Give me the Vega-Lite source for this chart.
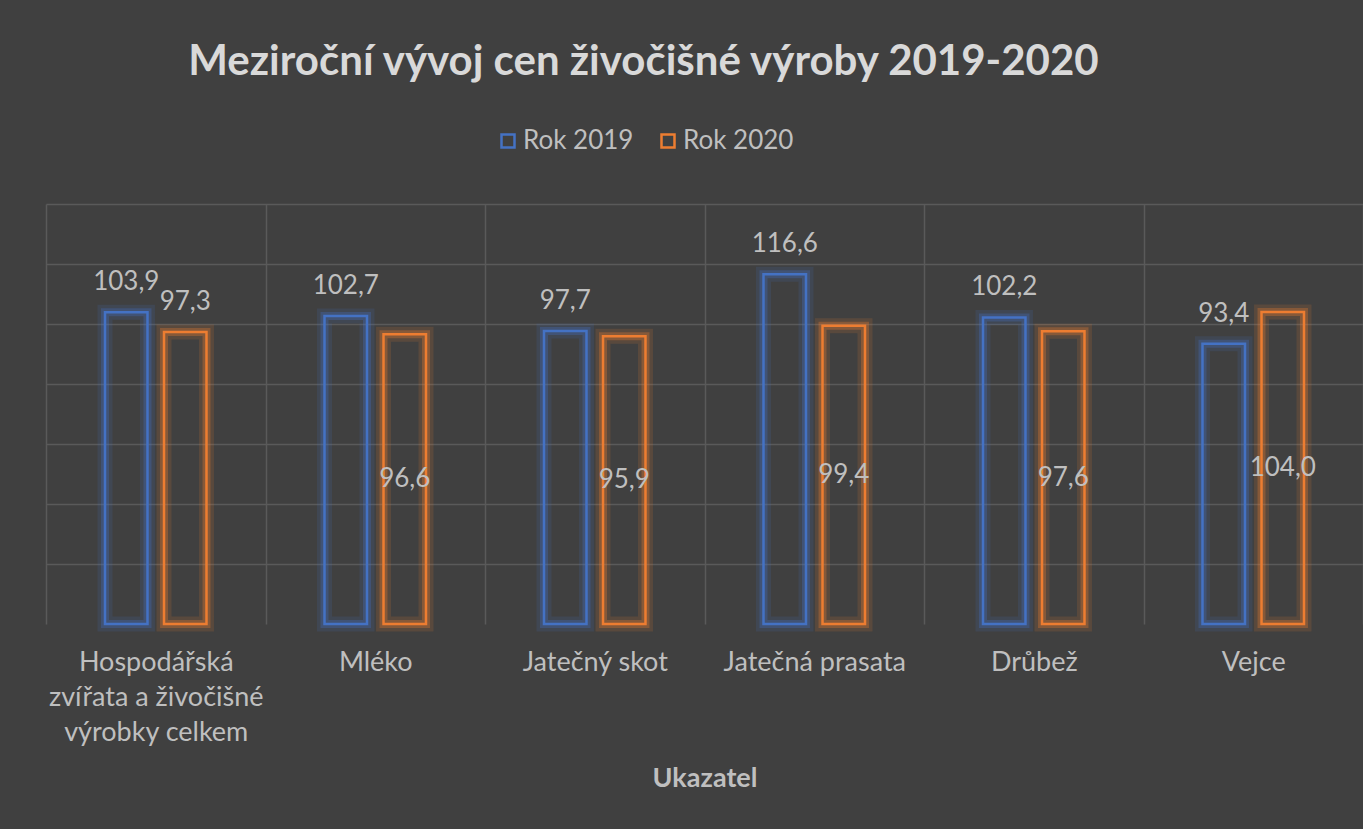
{
  "$schema": "https://vega.github.io/schema/vega-lite/v6.json",
  "width": 1317,
  "height": 420,
  "autosize": {"type": "none"},
  "padding": {"left": 46, "top": 204, "right": 0, "bottom": 205},
  "background": "#404040",
  "config": {
    "view": {"stroke": null},
    "font": "Lato",
    "locale": {"number": {"decimal": ",", "thousands": " ", "grouping": [3], "currency": ["", " Kč"]}},
    "legend": {
      "orient": "none",
      "direction": "horizontal",
      "legendX": 449,
      "legendY": -76,
      "symbolType": "square",
      "symbolSize": 169,
      "symbolStrokeWidth": 2.5,
      "symbolFillColor": "transparent",
      "labelFont": "Lato",
      "labelFontSize": 26,
      "labelColor": "#BFBFBF",
      "labelOffset": 2,
      "columnPadding": 21,
      "padding": 0
    }
  },
  "title": {
    "text": "Meziroční vývoj cen živočišné výroby 2019-2020",
    "font": "Lato",
    "fontSize": 42,
    "fontWeight": "bold",
    "color": "#D9D9D9",
    "anchor": "middle",
    "frame": "group",
    "dx": -61,
    "offset": 44
  },
  "data": {
    "values": [
      {"ukazatel": "Hospodářská zvířata a živočišné výrobky celkem", "rok": "Rok 2019", "hodnota": 103.9},
      {"ukazatel": "Hospodářská zvířata a živočišné výrobky celkem", "rok": "Rok 2020", "hodnota": 97.3},
      {"ukazatel": "Mléko", "rok": "Rok 2019", "hodnota": 102.7},
      {"ukazatel": "Mléko", "rok": "Rok 2020", "hodnota": 96.6},
      {"ukazatel": "Jatečný skot", "rok": "Rok 2019", "hodnota": 97.7},
      {"ukazatel": "Jatečný skot", "rok": "Rok 2020", "hodnota": 95.9},
      {"ukazatel": "Jatečná prasata", "rok": "Rok 2019", "hodnota": 116.6},
      {"ukazatel": "Jatečná prasata", "rok": "Rok 2020", "hodnota": 99.4},
      {"ukazatel": "Drůbež", "rok": "Rok 2019", "hodnota": 102.2},
      {"ukazatel": "Drůbež", "rok": "Rok 2020", "hodnota": 97.6},
      {"ukazatel": "Vejce", "rok": "Rok 2019", "hodnota": 93.4},
      {"ukazatel": "Vejce", "rok": "Rok 2020", "hodnota": 104.0}
    ]
  },
  "encoding": {
    "x": {
      "field": "ukazatel",
      "type": "nominal",
      "sort": null,
      "scale": {"paddingInner": 0, "paddingOuter": 0},
      "axis": {
        "title": "Ukazatel",
        "titleFont": "Lato",
        "titleFontSize": 27,
        "titleFontWeight": "bold",
        "titleColor": "#BFBFBF",
        "titlePadding": 20,
        "labelFont": "Lato",
        "labelFontSize": 27,
        "labelColor": "#BFBFBF",
        "labelAngle": 0,
        "labelPadding": 25,
        "labelLineHeight": 35,
        "labelLimit": 0,
        "labelExpr": "datum.label == 'Hospodářská zvířata a živočišné výrobky celkem' ? ['Hospodářská', 'zvířata a živočišné', 'výrobky celkem'] : datum.label",
        "domain": false,
        "ticks": false,
        "grid": true,
        "gridColor": "#5A5A5A",
        "gridWidth": 1.5,
        "tickBand": "extent"
      }
    },
    "xOffset": {
      "field": "rok",
      "type": "nominal",
      "scale": {"paddingInner": 0.28, "paddingOuter": 1.1175}
    },
    "y": {
      "field": "hodnota",
      "type": "quantitative",
      "scale": {"domain": [0, 140], "nice": false},
      "axis": {
        "title": null,
        "labels": false,
        "ticks": false,
        "domain": false,
        "grid": true,
        "gridColor": "#5A5A5A",
        "gridWidth": 1.5,
        "values": [20, 40, 60, 80, 100, 120, 140]
      }
    },
    "stroke": {
      "field": "rok",
      "type": "nominal",
      "scale": {"domain": ["Rok 2019", "Rok 2020"], "range": ["#4472C4", "#ED7D31"]},
      "legend": {"title": null}
    }
  },
  "layer": [
    {
      "mark": {"type": "bar", "fill": "transparent", "strokeWidth": 15, "strokeOpacity": 0.15}
    },
    {
      "mark": {"type": "bar", "fill": "transparent", "strokeWidth": 8, "strokeOpacity": 0.3}
    },
    {
      "mark": {"type": "bar", "fill": "transparent", "strokeWidth": 2.5}
    },
    {
      "transform": [{"filter": "datum.rok == 'Rok 2019' || datum.ukazatel == 'Hospodářská zvířata a živočišné výrobky celkem'"}],
      "mark": {"type": "text", "font": "Lato", "fontSize": 26, "fill": "#BFBFBF", "strokeOpacity": 0, "baseline": "middle", "dy": -30},
      "encoding": {
        "text": {"field": "hodnota", "type": "quantitative", "format": ".1f"}
      }
    },
    {
      "transform": [{"filter": "datum.rok == 'Rok 2020' && datum.ukazatel != 'Hospodářská zvířata a živočišné výrobky celkem'"}],
      "mark": {"type": "text", "font": "Lato", "fontSize": 26, "fill": "#BFBFBF", "strokeOpacity": 0, "baseline": "middle"},
      "encoding": {
        "y": {"field": "hodnota", "type": "quantitative", "stack": "zero", "bandPosition": 0.5},
        "detail": {"field": "rok", "type": "nominal"},
        "text": {"field": "hodnota", "type": "quantitative", "format": ".1f"}
      }
    }
  ]
}
